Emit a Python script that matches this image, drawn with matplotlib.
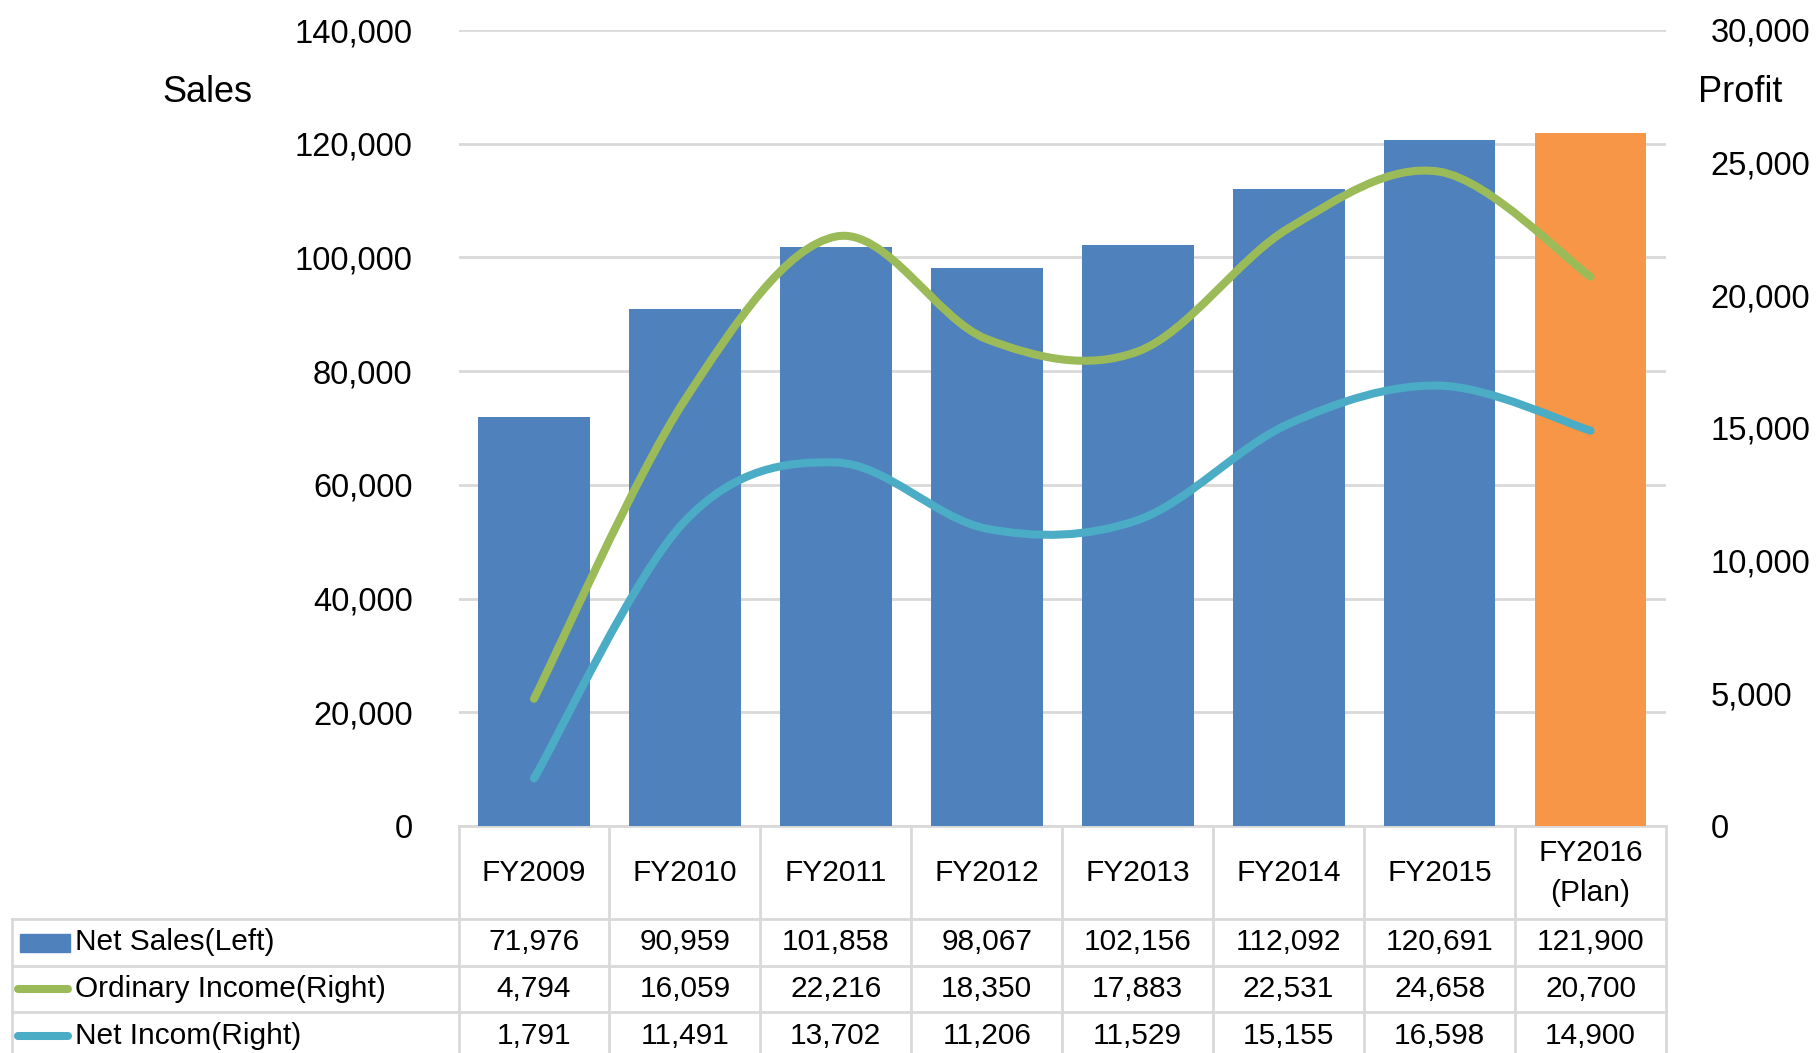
#import library
import matplotlib
matplotlib.use("Agg")
import matplotlib.pyplot as plt
import numpy as np
from matplotlib.path import Path
from matplotlib.patches import PathPatch, Rectangle
from matplotlib.ticker import FuncFormatter
from matplotlib.transforms import blended_transform_factory

plt.rcParams['font.family'] = ['Liberation Sans', 'DejaVu Sans']

#define datasets
years = ["FY2009", "FY2010", "FY2011", "FY2012", "FY2013", "FY2014", "FY2015", "FY2016\n(Plan)"]
net_sales = [71976, 90959, 101858, 98067, 102156, 112092, 120691, 121900]
ordinary_income = [4794, 16059, 22216, 18350, 17883, 22531, 24658, 20700]
net_income = [1791, 11491, 13702, 11206, 11529, 15155, 16598, 14900]
row_labels = ["Net Sales(Left)", "Ordinary Income(Right)", "Net Incom(Right)"]

blue = "#4F81BD"
orange = "#F79646"
green = "#9BBB59"
teal = "#4BACC6"
grid_col = "#D9D9D9"
bar_colors = [blue] * 7 + [orange]


#smoothed line like excel (catmull-rom as bezier)
def smooth_path(xs, ys):
    pts = np.column_stack([xs, ys]).astype(float)
    n = len(pts)
    verts = [pts[0]]
    codes = [Path.MOVETO]
    for i in range(n - 1):
        p0 = pts[max(i - 1, 0)]
        p1 = pts[i]
        p2 = pts[i + 1]
        p3 = pts[min(i + 2, n - 1)]
        verts += [p1 + (p2 - p0) / 6, p2 - (p3 - p1) / 6, p2]
        codes += [Path.CURVE4] * 3
    return Path(verts, codes)


#define fig and plot area
W, H = 1820, 1053
fig = plt.figure(figsize=(W / 100, H / 100), dpi=100)
ax_left, ax_right, ax_top, ax_bot = 458.5, 1666, 30, 826
ax = fig.add_axes([ax_left / W, 1 - ax_bot / H, (ax_right - ax_left) / W, (ax_bot - ax_top) / H])

x = np.arange(len(years))
ax.bar(x, net_sales, width=0.74, color=bar_colors, zorder=2)
ax.set_xlim(-0.5, len(years) - 0.5)
ax.set_ylim(0, 140000)
ax.set_yticks(range(0, 140001, 20000))
ax.yaxis.set_major_formatter(FuncFormatter(lambda v, p: f"{v:,.0f}"))
ax.grid(True, axis="y", color=grid_col, lw=2, zorder=0)
ax.set_axisbelow(True)
ax.set_xticks([])
ax.tick_params(length=0, labelsize=23.5, pad=33)
for s in ax.spines.values():
    s.set_visible(False)

#right axis with profit lines
ax2 = ax.twinx()
ax2.set_ylim(0, 30000)
ax2.set_yticks(range(0, 30001, 5000))
ax2.yaxis.set_major_formatter(FuncFormatter(lambda v, p: f"{v:,.0f}"))
ax2.tick_params(length=0, labelsize=23.5, pad=32)
for s in ax2.spines.values():
    s.set_visible(False)
ax2.add_patch(PathPatch(smooth_path(x, ordinary_income), fill=False, edgecolor=green, lw=5.8, capstyle="round", zorder=3))
ax2.add_patch(PathPatch(smooth_path(x, net_income), fill=False, edgecolor=teal, lw=5.8, capstyle="round", zorder=3))

#axis titles
fig.text(207 / W, 1 - 93 / H, "Sales", fontsize=26, ha="center", va="center")
fig.text(1698 / W, 1 - 93 / H, "Profit", fontsize=26, ha="left", va="center")

#data table below the chart
col_w = (ax_right - ax_left) / len(years)
def px_x(px):
    return (px - ax_left) / col_w - 0.5
def px_y(py):
    return 1 - py / H

trans = blended_transform_factory(ax.transData, fig.transFigure)
row_edges = [826, 919, 966, 1012, 1060]
left_x = px_x(11.6)
right_x = len(years) - 0.5
line_kw = dict(color=grid_col, lw=2, transform=trans, clip_on=False, zorder=1)

ax.plot([-0.5, right_x], [px_y(row_edges[0])] * 2, **line_kw)
for e in row_edges[1:4]:
    ax.plot([left_x, right_x], [px_y(e)] * 2, **line_kw)
for c in range(len(years) + 1):
    ax.plot([c - 0.5] * 2, [px_y(row_edges[0]), px_y(row_edges[-1])], **line_kw)
ax.plot([left_x] * 2, [px_y(row_edges[1]), px_y(row_edges[-1])], **line_kw)

#header row
for i, yr in enumerate(years):
    ax.text(i, px_y(873), yr, fontsize=21.5, ha="center", va="center",
            linespacing=1.55, transform=trans, clip_on=False)

#value rows
row_vals = [net_sales, ordinary_income, net_income]
for r, vals in enumerate(row_vals):
    cy = px_y((row_edges[r + 1] + row_edges[r + 2]) / 2)
    for i, v in enumerate(vals):
        ax.text(i, cy, f"{v:,}", fontsize=21.5, ha="center", va="center",
                transform=trans, clip_on=False)
    ax.text(px_x(75), cy, row_labels[r], fontsize=21.5, ha="left", va="center",
            transform=trans, clip_on=False)

#legend keys in the table
cy0 = px_y((row_edges[1] + row_edges[2]) / 2)
ax.add_patch(Rectangle((px_x(20), cy0 - 9 / H), 50 / col_w, 18 / H, color=blue,
                       transform=trans, clip_on=False))
for r, col in [(1, green), (2, teal)]:
    cy = px_y((row_edges[r + 1] + row_edges[r + 2]) / 2)
    ax.plot([px_x(18), px_x(68)], [cy, cy], color=col, lw=5.8, solid_capstyle="round",
            transform=trans, clip_on=False)

#save
fig.savefig("out.png", dpi=100)
